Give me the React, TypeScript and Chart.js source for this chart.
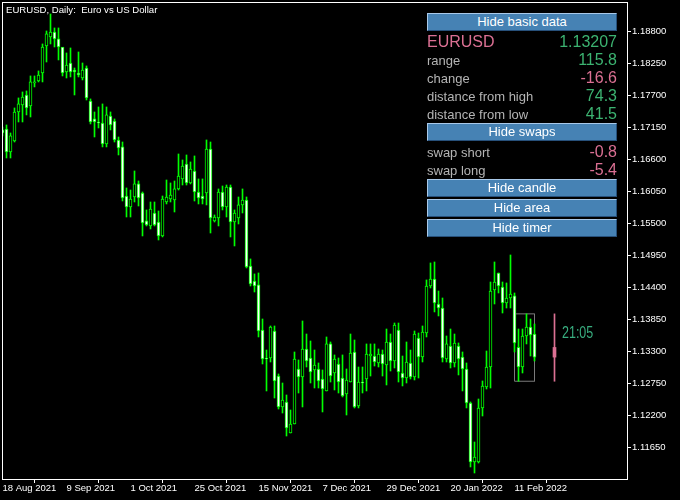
import React, { useEffect, useRef } from "react";
import { Chart, registerables } from "chart.js";

Chart.register(...registerables);

// ---- Daily EURUSD candles (index 0 = 18 Aug 2021) ----
const opens = [
  1.17111, 1.17128, 1.16733, 1.16922, 1.17420, 1.17540, 1.17712, 1.17523, 1.17918, 1.17953,
  1.18090, 1.18554, 1.18709, 1.18795, 1.18675, 1.18537, 1.18107, 1.18262, 1.18142, 1.18090,
  1.18004, 1.18176, 1.17609, 1.17300, 1.17248, 1.17231, 1.16870, 1.17351, 1.17265, 1.16939,
  1.16819, 1.15976, 1.15787, 1.15959, 1.16183, 1.16028, 1.15547, 1.15461, 1.15684, 1.15529,
  1.15289, 1.15873, 1.15925, 1.15907, 1.16097, 1.16269, 1.16526, 1.16200, 1.16406, 1.16045,
  1.15976, 1.16028, 1.16784, 1.15547, 1.15598, 1.16045, 1.15787, 1.16131, 1.15529, 1.15598,
  1.15822, 1.15907, 1.14773, 1.14515, 1.14447, 1.13673, 1.13192, 1.13192, 1.13656, 1.12882,
  1.12350, 1.12436, 1.11903, 1.12058, 1.13003, 1.12865, 1.13347, 1.13192, 1.12986, 1.13003,
  1.12831, 1.12625, 1.13433, 1.12934, 1.13089, 1.12848, 1.12573, 1.12779, 1.13295, 1.12367,
  1.12779, 1.12831, 1.13226, 1.13226, 1.13106, 1.13261, 1.13072, 1.13467, 1.13140, 1.13673,
  1.12934, 1.12848, 1.13106, 1.12865, 1.13536, 1.13209, 1.13621, 1.14429, 1.14550, 1.14120,
  1.14051, 1.13175, 1.13398, 1.13106, 1.13398, 1.13209, 1.13003, 1.12418, 1.11404, 1.11404,
  1.12333, 1.12694, 1.13037, 1.14361, 1.14653, 1.14412, 1.14137, 1.14223, 1.14258, 1.13373,
  1.13037, 1.13570, 1.13725, 1.13604,
];
const highs = [
  1.17162, 1.17197, 1.17059, 1.17489, 1.17661, 1.17764, 1.17781, 1.18039, 1.18039, 1.18125,
  1.18589, 1.18812, 1.19104, 1.18864, 1.18864, 1.18520, 1.18434, 1.18520, 1.18176, 1.18451,
  1.18262, 1.18211, 1.17644, 1.17420, 1.17506, 1.17558, 1.17506, 1.17420, 1.17300, 1.16990,
  1.16904, 1.16114, 1.16079, 1.16406, 1.16234, 1.16045, 1.15736, 1.15873, 1.15873, 1.15718,
  1.15976, 1.16251, 1.16200, 1.16234, 1.16698, 1.16595, 1.16681, 1.16561, 1.16664, 1.16269,
  1.16269, 1.16939, 1.16904, 1.15650, 1.16097, 1.16148, 1.16165, 1.16165, 1.15736, 1.15959,
  1.16097, 1.15959, 1.14894, 1.14636, 1.14653, 1.13862, 1.13329, 1.13742, 1.13742, 1.12917,
  1.12762, 1.12556, 1.12298, 1.13295, 1.13158, 1.13828, 1.13604, 1.13484, 1.13329, 1.13106,
  1.12986, 1.13553, 1.13467, 1.13244, 1.13192, 1.13244, 1.13003, 1.13604, 1.13501, 1.13037,
  1.13037, 1.13433, 1.13433, 1.13433, 1.13347, 1.13329, 1.13690, 1.13604, 1.13793, 1.13793,
  1.13226, 1.13467, 1.13329, 1.13656, 1.13621, 1.13742, 1.14533, 1.14825, 1.14842, 1.14343,
  1.14223, 1.13570, 1.13690, 1.13604, 1.13450, 1.13295, 1.13106, 1.12436, 1.11748, 1.12487,
  1.12797, 1.13312, 1.14498, 1.14842, 1.14653, 1.14498, 1.14481, 1.14962, 1.14309, 1.13690,
  1.13690, 1.13950, 1.13862, 1.13776,
];
const lows = [
  1.17008, 1.16629, 1.16629, 1.16904, 1.17248, 1.17248, 1.17369, 1.17334, 1.17850, 1.17936,
  1.17936, 1.18279, 1.18589, 1.18537, 1.18314, 1.18039, 1.18004, 1.18022, 1.17712, 1.18022,
  1.17970, 1.17626, 1.17214, 1.16990, 1.17145, 1.16819, 1.16819, 1.17111, 1.16904, 1.16681,
  1.15890, 1.15615, 1.15615, 1.15873, 1.15804, 1.15289, 1.15461, 1.15409, 1.15461, 1.15220,
  1.15272, 1.15839, 1.15873, 1.15701, 1.16079, 1.16165, 1.16165, 1.16183, 1.15890, 1.15839,
  1.15839, 1.15822, 1.15340, 1.15529, 1.15461, 1.15736, 1.15615, 1.15272, 1.15117, 1.15495,
  1.15684, 1.14739, 1.14429, 1.14326, 1.13553, 1.13089, 1.12625, 1.13123, 1.12504, 1.12315,
  1.12246, 1.11851, 1.11903, 1.12058, 1.12590, 1.12350, 1.13037, 1.12762, 1.12676, 1.12676,
  1.12264, 1.12625, 1.12779, 1.12642, 1.12590, 1.12522, 1.12212, 1.12779, 1.12333, 1.12333,
  1.12590, 1.12625, 1.12882, 1.13054, 1.13037, 1.12882, 1.12728, 1.12968, 1.13020, 1.12779,
  1.12711, 1.12762, 1.12831, 1.12814, 1.12848, 1.13123, 1.13553, 1.14395, 1.13983, 1.13914,
  1.13123, 1.13123, 1.13020, 1.13037, 1.12900, 1.12625, 1.12333, 1.11319, 1.11215, 1.11387,
  1.12195, 1.12659, 1.12676, 1.14120, 1.14309, 1.13965, 1.14051, 1.14051, 1.13295, 1.12792,
  1.12934, 1.13433, 1.13226, 1.13140,
];
const closes = [
  1.17059, 1.16733, 1.17008, 1.17420, 1.17558, 1.17678, 1.17489, 1.17936, 1.17936, 1.18056,
  1.18537, 1.18761, 1.18795, 1.18675, 1.18537, 1.18090, 1.18228, 1.18107, 1.18107, 1.18056,
  1.18142, 1.17661, 1.17248, 1.17248, 1.17231, 1.16870, 1.17369, 1.17197, 1.16939, 1.16801,
  1.15942, 1.15787, 1.15925, 1.16183, 1.15942, 1.15512, 1.15478, 1.15753, 1.15478, 1.15289,
  1.15925, 1.15959, 1.15993, 1.16097, 1.16320, 1.16492, 1.16200, 1.16440, 1.16045, 1.15942,
  1.15925, 1.16784, 1.15598, 1.15615, 1.16045, 1.15787, 1.16131, 1.15529, 1.15684, 1.15822,
  1.15907, 1.14756, 1.14464, 1.14429, 1.13656, 1.13175, 1.13175, 1.13725, 1.12797, 1.12350,
  1.12470, 1.11989, 1.12058, 1.13175, 1.12865, 1.13347, 1.13140, 1.12951, 1.13072, 1.12797,
  1.12659, 1.13433, 1.12882, 1.13175, 1.12779, 1.12539, 1.12814, 1.13278, 1.12350, 1.12779,
  1.12762, 1.13261, 1.13261, 1.13123, 1.13261, 1.13089, 1.13467, 1.13140, 1.13759, 1.12951,
  1.12848, 1.13123, 1.12865, 1.13604, 1.13209, 1.13639, 1.14429, 1.14550, 1.14137, 1.14051,
  1.13192, 1.13433, 1.13106, 1.13450, 1.13175, 1.13003, 1.12418, 1.11404, 1.11490, 1.12333,
  1.12711, 1.13037, 1.14343, 1.14498, 1.14429, 1.14137, 1.14223, 1.14292, 1.13450, 1.13037,
  1.13570, 1.13725, 1.13587, 1.13207,
];

// ---- axes ----
const xTickIndex = [0, 16, 32, 48, 64, 80, 96, 112, 128];
const xTickLabels = [
  "18 Aug 2021", "9 Sep 2021", "1 Oct 2021", "25 Oct 2021", "15 Nov 2021",
  "7 Dec 2021", "29 Dec 2021", "20 Jan 2022", "11 Feb 2022",
];
const yTickValues = [
  1.1165, 1.122, 1.1275, 1.133, 1.1385, 1.144, 1.1495, 1.155, 1.1605, 1.166, 1.1715, 1.177, 1.1825, 1.188,
];
const yMin = 1.11112;
const yMax = 1.1931;
const xMin = -0.125;
const xMax = 156.125;

// ---- current week candle / area ----
const weekIndex = 138;
const weekOpen = 1.13373;
const weekHigh = 1.1395;
const weekLow = 1.12792;
const weekClose = 1.13207;
const areaStart = 128;
const areaEnd = 133;
const timerText = "21:05";

// ---- info panel ----
const titleText = "EURUSD, Daily:  Euro vs US Dollar";
const symbolName = "EURUSD";
const symbolPrice = "1.13207";
const infoLabels = ["range", "change", "distance from high", "distance from low"];
const infoValues = ["115.8", "-16.6", "74.3", "41.5"];
const swapLabels = ["swap short", "swap long"];
const swapValues = ["-0.8", "-5.4"];
const buttonLabels = ["Hide basic data", "Hide swaps", "Hide candle", "Hide area", "Hide timer"];

const LIME = "#00FF00";
const PINK = "#DB7093";
const GREEN = "#3CB371";
const TIMER_GREEN = "#38AD7F";
const GRAY_TEXT = "#B4B4B4";
const FONT = "'Liberation Sans', Arial, sans-serif";

const overlayPlugin = {
  id: "mtOverlay",
  afterDraw(chart: any) {
    const { ctx, chartArea, scales } = chart;
    ctx.save();
    ctx.strokeStyle = "#FFFFFF";
    ctx.lineWidth = 1;
    ctx.strokeRect(
      chartArea.left + 0.5,
      chartArea.top + 0.5,
      chartArea.right - chartArea.left,
      chartArea.bottom - chartArea.top
    );
    // timer text next to the weekly candle (condensed like the original)
    const x = scales.x.getPixelForValue(weekIndex) + 7.5;
    const y = scales.y.getPixelForValue(weekOpen) - 9;
    ctx.fillStyle = TIMER_GREEN;
    ctx.font = "16px 'Liberation Sans', sans-serif";
    ctx.textAlign = "left";
    ctx.textBaseline = "alphabetic";
    ctx.translate(x, y);
    ctx.scale(0.78, 1);
    ctx.fillText(timerText, 0, 0);
    ctx.restore();
  },
};

function Button({ top, label }: { top: number; label: string }) {
  return (
    <div
      style={{
        position: "absolute",
        left: 427,
        top,
        width: 190,
        height: 18,
        boxSizing: "border-box",
        background: "#4682B4",
        borderTop: "1px solid #A9C9E9",
        borderLeft: "1px solid #A9C9E9",
        borderRight: "1px solid #27507A",
        borderBottom: "1px solid #27507A",
        color: "#FFFFFF",
        font: `13px ${FONT}`,
        lineHeight: "16px",
        textAlign: "center",
        whiteSpace: "nowrap",
      }}
    >
      {label}
    </div>
  );
}

function Txt({
  top,
  size,
  color,
  text,
  right,
}: {
  top: number;
  size: number;
  color: string;
  text: string;
  right?: boolean;
}) {
  return (
    <div
      style={{
        position: "absolute",
        left: 427,
        width: 190,
        top,
        font: `${size}px ${FONT}`,
        lineHeight: `${size}px`,
        color,
        textAlign: right ? "right" : "left",
        whiteSpace: "nowrap",
      }}
    >
      {text}
    </div>
  );
}

export default function App() {
  const canvasRef = useRef<HTMLCanvasElement | null>(null);

  useEffect(() => {
    if (!canvasRef.current) return;
    const bodies = opens.map((o, i) => ({ x: i, y: [o, closes[i]] }));
    const wicks = lows.map((l, i) => ({ x: i, y: [l, highs[i]] }));
    const bodyColors = opens.map((o, i) => (closes[i] < o ? "#FFFFFF" : "#000000"));
    const areaPts = [
      { x: areaStart, y: weekHigh },
      { x: areaEnd, y: weekHigh },
      { x: areaEnd, y: weekLow },
      { x: areaStart, y: weekLow },
      { x: areaStart, y: weekHigh },
    ];

    const chart = new Chart(canvasRef.current, {
      type: "bar",
      data: {
        datasets: [
          {
            type: "bar",
            label: "body",
            data: bodies as any,
            barThickness: 3,
            borderWidth: 1,
            borderColor: LIME,
            backgroundColor: bodyColors,
            borderSkipped: false,
            grouped: false,
            order: 0,
            clip: 0,
          } as any,
          {
            type: "bar",
            label: "wick",
            data: wicks as any,
            barThickness: 1,
            borderWidth: 0,
            backgroundColor: LIME,
            grouped: false,
            order: 1,
            clip: 0,
          } as any,
          {
            type: "bar",
            label: "week body",
            data: [{ x: weekIndex, y: [weekOpen, weekClose] }] as any,
            barThickness: 3,
            borderWidth: 0,
            backgroundColor: PINK,
            grouped: false,
            order: 0,
          } as any,
          {
            type: "bar",
            label: "week wick",
            data: [{ x: weekIndex, y: [weekLow, weekHigh] }] as any,
            barThickness: 1,
            borderWidth: 0,
            backgroundColor: PINK,
            grouped: false,
            order: 1,
          } as any,
          {
            type: "line",
            label: "area",
            data: areaPts as any,
            borderColor: "#7A7A7A",
            borderWidth: 1,
            pointRadius: 0,
            fill: false,
            tension: 0,
            order: 3,
          } as any,
        ],
      },
      options: {
        animation: false,
        responsive: false,
        events: [],
        layout: { padding: { left: 2, top: 2, right: 0, bottom: 0 } },
        plugins: { legend: { display: false }, tooltip: { enabled: false } },
        scales: {
          x: {
            type: "linear",
            min: xMin,
            max: xMax,
            offset: false,
            border: { display: false },
            grid: {
              display: true,
              drawOnChartArea: false,
              drawTicks: true,
              tickLength: 4,
              color: "#FFFFFF",
              lineWidth: 1,
            },
            afterBuildTicks: (s: any) => {
              s.ticks = xTickIndex.map((v) => ({ value: v }));
            },
            afterFit: (s: any) => {
              s.height = 21;
              s.paddingLeft = 0;
              s.paddingRight = 0;
            },
            ticks: {
              autoSkip: false,
              maxRotation: 0,
              minRotation: 0,
              align: "start",
              padding: 0,
              color: "#FFFFFF",
              font: { family: FONT, size: 9.5 },
              callback: (_v: any, idx: number) => xTickLabels[idx],
            },
          } as any,
          y: {
            type: "linear",
            position: "right",
            min: yMin,
            max: yMax,
            border: { display: false },
            grid: {
              display: true,
              drawOnChartArea: false,
              drawTicks: true,
              tickLength: 4,
              color: "#FFFFFF",
              lineWidth: 1,
            },
            afterBuildTicks: (s: any) => {
              s.ticks = yTickValues.map((v) => ({ value: v }));
            },
            afterFit: (s: any) => {
              s.width = 53;
              s.paddingTop = 0;
              s.paddingBottom = 0;
            },
            ticks: {
              padding: 1,
              color: "#FFFFFF",
              font: { family: FONT, size: 9.5 },
              callback: (v: any) => Number(v).toFixed(5),
            },
          } as any,
        },
      },
      plugins: [overlayPlugin],
    });
    return () => chart.destroy();
  }, []);

  const valueTops = [51.5, 69.5, 87.5, 105.5];
  const labelTops = [54, 72, 90, 108];

  return (
    <div
      style={{
        position: "fixed",
        left: 0,
        top: 0,
        width: 680,
        height: 500,
        background: "#000000",
        overflow: "hidden",
      }}
    >
      <canvas ref={canvasRef} width={680} height={500} style={{ display: "block" }} />
      <div
        style={{
          position: "absolute",
          left: 6,
          top: 5,
          font: `9.6px ${FONT}`,
          lineHeight: "10px",
          color: "#FFFFFF",
          whiteSpace: "pre",
        }}
      >
        {titleText}
      </div>
      <Button top={13} label={buttonLabels[0]} />
      <Txt top={33.5} size={16} color={PINK} text={symbolName} />
      <Txt top={33.5} size={16} color={GREEN} text={symbolPrice} right />
      {infoLabels.map((l, i) => (
        <Txt key={"l" + i} top={labelTops[i]} size={13} color={GRAY_TEXT} text={l} />
      ))}
      {infoValues.map((v, i) => (
        <Txt
          key={"v" + i}
          top={valueTops[i]}
          size={16}
          color={v.startsWith("-") ? PINK : GREEN}
          text={v}
          right
        />
      ))}
      <Button top={123} label={buttonLabels[1]} />
      {swapLabels.map((l, i) => (
        <Txt key={"s" + i} top={146 + i * 18} size={13} color={GRAY_TEXT} text={l} />
      ))}
      {swapValues.map((v, i) => (
        <Txt key={"sv" + i} top={143.5 + i * 18} size={16} color={PINK} text={v} right />
      ))}
      <Button top={179} label={buttonLabels[2]} />
      <Button top={199} label={buttonLabels[3]} />
      <Button top={219} label={buttonLabels[4]} />
    </div>
  );
}
